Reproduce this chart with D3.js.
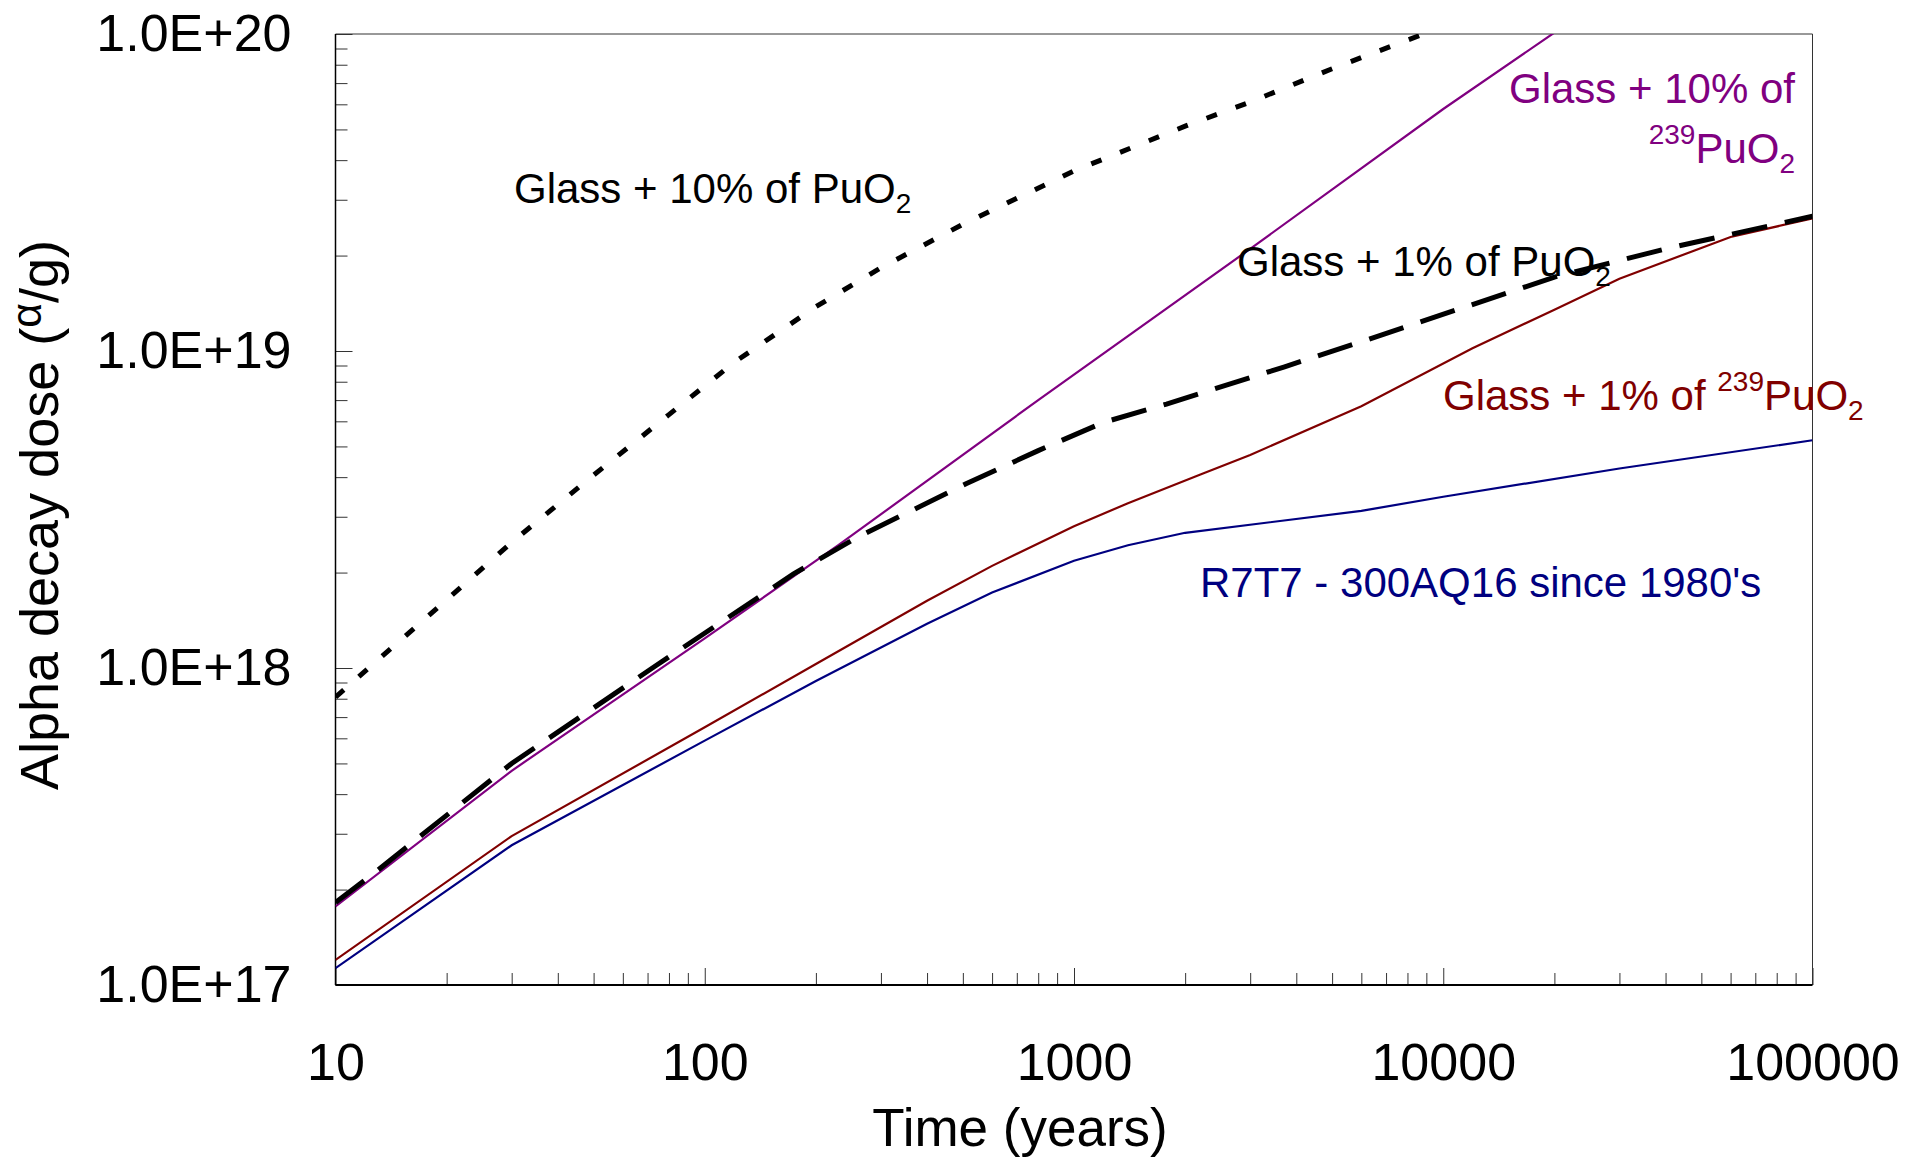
<!DOCTYPE html>
<html>
<head>
<meta charset="utf-8">
<script src="https://cdn.jsdelivr.net/npm/d3@7"></script>
<style>
  body { margin: 0; background: #fff; }
  text { font-family: "Liberation Sans", Arial, sans-serif; }
</style>
</head>
<body>
<div id="chart"></div>
<script>
// Glass + 10% of PuO2 (dotted)
const pu10Years = [10, 20, 30, 50, 80, 120, 200, 300, 500, 1000, 2000, 3000, 5000, 8000, 12000];
const pu10Dose = [8.1e17, 1.64e18, 2.49e18, 4.06e18, 6.3e18, 9.2e18, 1.38e19, 1.83e19, 2.51e19, 3.7e19, 5.12e19, 6.1e19, 7.77e19, 9.57e19, 1.14e20];

// Glass + 10% of 239PuO2 (purple)
const pu239_10Years = [10, 30, 100, 230, 800, 3000, 10000, 20000, 30000];
const pu239_10Dose = [1.77e17, 4.74e17, 1.24e18, 2.44e18, 7.0e18, 2.1e19, 5.8e19, 1.01e20, 1.4e20];

// Glass + 1% of PuO2 (dashed)
const pu1Years = [10, 13, 30, 74, 174, 258, 510, 800, 1200, 1780, 3700, 6000, 20000, 40000, 100000];
const pu1Dose = [1.82e17, 2.3e17, 5.0e17, 1.02e18, 1.98e18, 2.58e18, 3.81e18, 4.85e18, 5.95e18, 6.8e18, 8.9e18, 1.07e19, 1.71e19, 2.1e19, 2.66e19];

// Glass + 1% of 239PuO2 (dark red)
const pu239_1Years = [10, 30, 100, 200, 400, 600, 1000, 1400, 2200, 3000, 6000, 12000, 20000, 30000, 60000, 100000];
const pu239_1Dose = [1.2e17, 2.95e17, 6.5e17, 1.03e18, 1.63e18, 2.1e18, 2.8e18, 3.31e18, 4.08e18, 4.7e18, 6.7e18, 1.02e19, 1.35e19, 1.69e19, 2.29e19, 2.62e19];

// R7T7 - 300AQ16 (navy)
const r7t7Years = [10, 30, 100, 200, 400, 600, 1000, 1400, 2000, 6000, 10000, 30000, 100000];
const r7t7Dose = [1.13e17, 2.76e17, 5.9e17, 9.1e17, 1.38e18, 1.73e18, 2.18e18, 2.44e18, 2.67e18, 3.13e18, 3.47e18, 4.26e18, 5.23e18];

const xTickValues = [10, 100, 1000, 10000, 100000];
const yTickValues = [1e17, 1e18, 1e19, 1e20];
const yTickLabels = ['1.0E+17', '1.0E+18', '1.0E+19', '1.0E+20'];

const width = 1906;
const height = 1158;
const plotLeft = 335.5, plotRight = 1812.5, plotTop = 34, plotBottom = 985;

const x = d3.scaleLog().domain([10, 1e5]).range([plotLeft, plotRight]);
const y = d3.scaleLog().domain([1e17, 1e20]).range([plotBottom, plotTop]);

// minor ticks 2..9 in every decade
const minor = (lo, hi) => {
  const out = [];
  for (let d = lo; d < hi; d *= 10) for (let k = 2; k <= 9; k++) out.push(d * k);
  return out;
};

const svg = d3.select('#chart').append('svg')
  .attr('width', width)
  .attr('height', height)
  .style('background', '#fff');

svg.append('defs').append('clipPath').attr('id', 'plot')
  .append('rect').attr('x', plotLeft).attr('y', plotTop)
  .attr('width', plotRight - plotLeft).attr('height', plotBottom - plotTop);

// x ticks (inward)
svg.append('g').attr('transform', `translate(0,${plotBottom})`)
  .call(d3.axisBottom(x).tickValues(minor(10, 1e5)).tickFormat('').tickSizeInner(-12).tickSizeOuter(0));
svg.append('g').attr('transform', `translate(0,${plotBottom})`)
  .call(d3.axisBottom(x).tickValues(xTickValues).tickFormat(d3.format('d'))
    .tickSizeInner(-17).tickSizeOuter(0).tickPadding(58));

// y ticks (inward)
svg.append('g').attr('transform', `translate(${plotLeft},0)`)
  .call(d3.axisLeft(y).tickValues(minor(1e17, 1e20)).tickFormat('').tickSizeInner(-12).tickSizeOuter(0));
svg.append('g').attr('transform', `translate(${plotLeft},0)`)
  .call(d3.axisLeft(y).tickValues(yTickValues).tickFormat((d, i) => yTickLabels[i])
    .tickSizeInner(-17).tickSizeOuter(0).tickPadding(44));

svg.selectAll('.domain').remove();
svg.selectAll('.tick line').attr('stroke', '#333').attr('stroke-width', 1);
svg.selectAll('.tick text').attr('fill', '#000').attr('font-size', 52)
  .attr('font-family', '"Liberation Sans", Arial, sans-serif');

// frame
svg.append('line').attr('x1', plotLeft).attr('x2', plotRight).attr('y1', plotTop).attr('y2', plotTop)
  .attr('stroke', '#333').attr('stroke-width', 1);
svg.append('line').attr('x1', plotRight).attr('x2', plotRight).attr('y1', plotTop).attr('y2', plotBottom)
  .attr('stroke', '#333').attr('stroke-width', 1);
svg.append('line').attr('x1', plotLeft).attr('x2', plotLeft).attr('y1', plotTop).attr('y2', plotBottom)
  .attr('stroke', '#000').attr('stroke-width', 1.5);
svg.append('line').attr('x1', plotLeft).attr('x2', plotRight).attr('y1', plotBottom).attr('y2', plotBottom)
  .attr('stroke', '#000').attr('stroke-width', 2);

// series
const series = [
  { years: r7t7Years, dose: r7t7Dose, color: '#000080', w: 2.2, dash: null },
  { years: pu239_1Years, dose: pu239_1Dose, color: '#800000', w: 2.2, dash: null },
  { years: pu239_10Years, dose: pu239_10Dose, color: '#800080', w: 2.2, dash: null },
  { years: pu1Years, dose: pu1Dose, color: '#000', w: 5, dash: '36,18' },
  { years: pu10Years, dose: pu10Dose, color: '#000', w: 5, dash: '11,20' },
];

const line = d3.line().x((d) => x(d[0])).y((d) => y(d[1]));

svg.append('g').attr('clip-path', 'url(#plot)')
  .selectAll('path')
  .data(series)
  .join('path')
  .attr('d', (s) => line(s.years.map((t, i) => [t, s.dose[i]])))
  .attr('fill', 'none')
  .attr('stroke', (s) => s.color)
  .attr('stroke-width', (s) => s.w)
  .attr('stroke-dasharray', (s) => s.dash);

// text with sub/superscripts: parts = [[text, 'n'|'sup'|'sub', scale?, rise?]]
const richText = (px, py, anchor, color, size, parts, rotate) => {
  const t = svg.append('text')
    .attr('x', px).attr('y', py)
    .attr('text-anchor', anchor)
    .attr('fill', color)
    .attr('font-size', size);
  if (rotate) t.attr('transform', `rotate(-90,${px},${py})`);
  let shift = 0;
  parts.forEach(([str, kind, scale, rise]) => {
    let target = 0;
    if (kind === 'sup') target = -Math.round(size * (rise || 0.45));
    if (kind === 'sub') target = Math.round(size * 0.24);
    t.append('tspan')
      .attr('dy', target - shift)
      .attr('font-size', kind === 'n' ? size : Math.round(size * (scale || 0.66)))
      .text(str);
    shift = target;
  });
  return t;
};

richText(514, 203, 'start', '#000', 42, [['Glass + 10% of PuO', 'n'], ['2', 'sub']]);
richText(1795, 103, 'end', '#800080', 42, [['Glass + 10% of', 'n']]);
richText(1795, 163, 'end', '#800080', 42, [['239', 'sup'], ['PuO', 'n'], ['2', 'sub']]);
richText(1237, 276, 'start', '#000', 42, [['Glass + 1% of PuO', 'n'], ['2', 'sub']]);
richText(1443, 410, 'start', '#800000', 42, [['Glass + 1% of ', 'n'], ['239', 'sup'], ['PuO', 'n'], ['2', 'sub']]);
richText(1200, 597, 'start', '#000080', 42, [["R7T7 - 300AQ16 since 1980's", 'n']]);

// axis titles
svg.append('text')
  .attr('x', 1020).attr('y', 1146)
  .attr('text-anchor', 'middle')
  .attr('font-size', 53)
  .text('Time (years)');

richText(58, 515, 'middle', '#000', 54,
  [['Alpha decay dose (', 'n'], ['\u03b1', 'sup', 0.8, 0.32], ['/g)', 'n']], true);
</script>
</body>
</html>
